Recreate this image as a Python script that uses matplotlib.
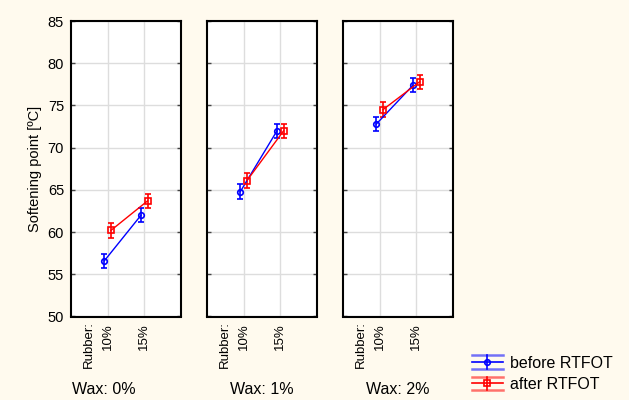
import matplotlib
matplotlib.use("Agg")
import matplotlib.pyplot as plt
from matplotlib.lines import Line2D
from matplotlib.legend_handler import HandlerBase

plt.rcParams['font.family'] = ['Liberation Sans', 'DejaVu Sans']

wax_labels = ["Wax: 0%", "Wax: 1%", "Wax: 2%"]
rubber_labels = ["10%", "15%"]
before_vals = [[56.6, 62.0], [64.8, 72.0], [72.8, 77.4]]
after_vals = [[60.2, 63.7], [66.1, 72.0], [74.5, 77.8]]
before_err = [[0.85, 0.85], [0.85, 0.85], [0.85, 0.85]]
after_err = [[0.85, 0.85], [0.85, 0.85], [0.85, 0.85]]
yticks = [50, 55, 60, 65, 70, 75, 80, 85]

bg = '#FFFAEE'
fig = plt.figure(figsize=(6.29, 4.0), dpi=100, facecolor=bg)

W, H = 629, 400
lefts = [71, 207, 343]
pw = 110
top, bottom = 21, 316.5

for i, lx in enumerate(lefts):
    ax = fig.add_axes([lx / W, 1 - bottom / H, pw / W, (bottom - top) / H])
    ax.set_facecolor('white')
    xs = [1, 2]
    off = 0.09
    ax.errorbar([x - off for x in xs], before_vals[i], yerr=before_err[i], color='#0000FF',
                marker='o', ms=4, mfc='none', mew=1.2, lw=1, capsize=2.5, elinewidth=1.2, capthick=1.2, zorder=3)
    ax.errorbar([x + off for x in xs], after_vals[i], yerr=after_err[i], color='#FF0000',
                marker='s', ms=4, mfc='none', mew=1.2, lw=1, capsize=2.5, elinewidth=1.2, capthick=1.2, zorder=3)
    ax.set_xlim(0, 3)
    ax.set_ylim(50, 85)
    ax.set_xticks(xs)
    ax.set_xticklabels(rubber_labels, rotation=90, fontsize=9.5)
    ax.set_yticks(yticks)
    if i == 0:
        ax.set_yticklabels([str(t) for t in yticks], fontsize=10.5)
        ax.set_ylabel("Softening point [ºC]", fontsize=10.5, labelpad=4)
    else:
        ax.set_yticklabels([])
    ax.tick_params(axis='both', direction='in', length=3, width=1, color='#444444',
                   left=True, right=True, top=False, bottom=False, pad=5)
    ax.grid(True, color='#DDDDDD', lw=1)
    ax.set_axisbelow(True)
    for s in ax.spines.values():
        s.set_color('black')
        s.set_linewidth(1.5)
    ax.text(0.5, -0.017, "Rubber:", rotation=90, ha='center', va='top',
            fontsize=9.5, transform=ax.get_xaxis_transform())

# Wax labels
wax_pos = [(72, 'left'), (262, 'center'), (398, 'center')]
for (xp, ha), lab in zip(wax_pos, wax_labels):
    fig.text(xp / W, 1 - 389 / H, lab, ha=ha, va='center', fontsize=11.5)


class ErrHandler(HandlerBase):
    def __init__(self, color, marker):
        super().__init__()
        self.color = color
        self.marker = marker

    def create_artists(self, legend, orig_handle, xdescent, ydescent, width, height, fontsize, trans):
        cy = height / 2 - ydescent
        d = height * 0.62
        arts = []
        arts.append(Line2D([0 - xdescent, width - xdescent], [cy, cy], color=self.color, lw=1.2, transform=trans))
        for dy in (d, -d):
            arts.append(Line2D([0 - xdescent, width - xdescent], [cy + dy, cy + dy], color=self.color,
                               lw=1.8, alpha=0.55, transform=trans))
        arts.append(Line2D([width / 2 - xdescent] * 2, [cy - d, cy + d], color=self.color, lw=1.2, transform=trans))
        arts.append(Line2D([width / 2 - xdescent], [cy], color=self.color, marker=self.marker, ms=4,
                           mfc='none', mew=1.2, transform=trans))
        return arts


h1 = Line2D([], [], color='#0000FF')
h2 = Line2D([], [], color='#FF0000')
fig.legend([h1, h2], ["before RTFOT", "after RTFOT"],
           handler_map={h1: ErrHandler('#0000FF', 'o'), h2: ErrHandler('#FF0000', 's')},
           loc='center left', bbox_to_anchor=(461 / W, 1 - 374 / H), frameon=False,
           fontsize=11.5, handlelength=1.9, handletextpad=0.45, labelspacing=0.38,
           borderpad=0.2)

fig.savefig("out.png", dpi=100, facecolor=bg)
